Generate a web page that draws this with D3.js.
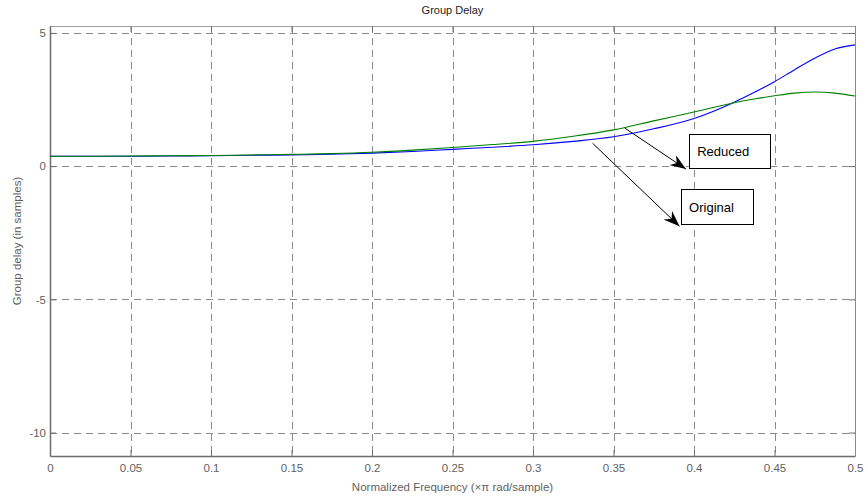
<!DOCTYPE html>
<html>
<head>
<meta charset="utf-8">
<script src="https://cdn.jsdelivr.net/npm/d3@7"></script>
<style>
  html, body { margin: 0; padding: 0; background: #fff; }
  svg { display: block; font-family: "Liberation Sans", Arial, sans-serif; }
</style>
</head>
<body>
<svg id="chart" width="866" height="498"></svg>
<script>
// Normalized frequency samples (x pi rad/sample)
const freq = [0, 0.025, 0.05, 0.075, 0.1, 0.125, 0.15, 0.175, 0.2, 0.225, 0.25,
              0.275, 0.3, 0.325, 0.35, 0.375, 0.4, 0.425, 0.4375, 0.45, 0.4625, 0.475, 0.4875, 0.5];
// Group delay of the original filter (samples)
const originalDelay = [0.37, 0.37, 0.37, 0.38, 0.39, 0.41, 0.42, 0.45, 0.49, 0.55, 0.63,
                       0.71, 0.80, 0.93, 1.10, 1.40, 1.79, 2.40, 2.77, 3.17, 3.62, 4.05, 4.40, 4.55];
// Group delay of the reduced-order filter (samples)
const reducedDelay = [0.37, 0.37, 0.38, 0.39, 0.40, 0.42, 0.44, 0.47, 0.52, 0.60, 0.70,
                      0.81, 0.93, 1.12, 1.36, 1.70, 2.03, 2.38, 2.52, 2.64, 2.74, 2.78, 2.74, 2.63];

const xTicks = [0, 0.05, 0.1, 0.15, 0.2, 0.25, 0.3, 0.35, 0.4, 0.45, 0.5];
const xTickLabels = ["0", "0.05", "0.1", "0.15", "0.2", "0.25", "0.3", "0.35", "0.4", "0.45", "0.5"];
const yTicks = [-10, -5, 0, 5];
const yTickLabels = ["-10", "-5", "0", "5"];
const xDomain = [0, 0.5];
const yDomain = [-10.88, 5.26];

// Text annotations: boxes (data units) and arrows pointing from the curves
const noteLabels = ["Reduced", "Original"];
const noteBoxF = [[0.397, 0.447], [0.392, 0.437]];
const noteBoxV = [[1.20, -0.08], [-0.87, -2.18]];
const arrowFrom = [[0.357, 1.43], [0.337, 0.86]];
const arrowTo = [[0.395, -0.11], [0.391, -2.26]];

const W = 866, H = 498;
const margin = { left: 50, right: 11, top: 26, bottom: 42 };
const svg = d3.select("#chart");

const x = d3.scaleLinear().domain(xDomain).range([margin.left, W - margin.right]);
const y = d3.scaleLinear().domain(yDomain).range([H - margin.bottom, margin.top]);

const frameColor = "#6e6e6e";
const gridColor = "#8a8a8a";
const textColor = "#5f5f5f";

// Dashed grid
const grid = svg.append("g");
grid.selectAll("line.gx").data(xTicks.slice(1, -1)).join("line")
  .attr("x1", d => Math.round(x(d)) + 0.5).attr("x2", d => Math.round(x(d)) + 0.5)
  .attr("y1", y.range()[1]).attr("y2", y.range()[0])
  .attr("stroke", gridColor).attr("stroke-dasharray", "7,5").attr("stroke-width", 1);
grid.selectAll("line.gy").data(yTicks).join("line")
  .attr("y1", d => Math.round(y(d)) + 0.5).attr("y2", d => Math.round(y(d)) + 0.5)
  .attr("x1", x.range()[0]).attr("x2", x.range()[1])
  .attr("stroke", gridColor).attr("stroke-dasharray", "7,5").attr("stroke-width", 1);

// Axes (ticks point inwards, box on all sides)
const fmtX = (d, i) => xTickLabels[i];
const fmtY = (d, i) => yTickLabels[i];
const axBottom = svg.append("g").attr("transform", `translate(0,${y.range()[0]})`)
  .call(d3.axisBottom(x).tickValues(xTicks).tickFormat(fmtX).tickSizeInner(-6).tickSizeOuter(0).tickPadding(8));
const axTop = svg.append("g").attr("transform", `translate(0,${y.range()[1]})`)
  .call(d3.axisTop(x).tickValues(xTicks).tickFormat("").tickSizeInner(-6).tickSizeOuter(0));
const axLeft = svg.append("g").attr("transform", `translate(${x.range()[0]},0)`)
  .call(d3.axisLeft(y).tickValues(yTicks).tickFormat(fmtY).tickSizeInner(-6).tickSizeOuter(0).tickPadding(4));
const axRight = svg.append("g").attr("transform", `translate(${x.range()[1]},0)`)
  .call(d3.axisRight(y).tickValues(yTicks).tickFormat("").tickSizeInner(-6).tickSizeOuter(0));

[axBottom, axTop, axLeft, axRight].forEach(g => {
  g.select(".domain").attr("stroke", frameColor).attr("stroke-width", 1.5);
  g.selectAll(".tick line").attr("stroke", frameColor);
  g.selectAll(".tick text").attr("fill", textColor).attr("font-size", 11.5)
    .attr("font-family", "'Liberation Sans', Arial, sans-serif");
});
axTop.select(".domain").attr("stroke", "#a0a0a0").attr("stroke-width", 1);
axRight.select(".domain").attr("stroke", "#8a8a8a").attr("stroke-width", 1);

// Curves
const line = d3.line().x(d => x(d[0])).y(d => y(d[1])).curve(d3.curveMonotoneX);
svg.append("path").datum(freq.map((f, i) => [f, originalDelay[i]]))
  .attr("d", line).attr("fill", "none").attr("stroke", "#0000ff").attr("stroke-width", 1.1);
svg.append("path").datum(freq.map((f, i) => [f, reducedDelay[i]]))
  .attr("d", line).attr("fill", "none").attr("stroke", "#008000").attr("stroke-width", 1.1);

// Title and axis labels
svg.append("text").attr("x", (x.range()[0] + x.range()[1]) / 2).attr("y", 14)
  .attr("text-anchor", "middle").attr("font-size", 11).attr("fill", "#222")
  .text("Group Delay");
svg.append("text").attr("x", (x.range()[0] + x.range()[1]) / 2).attr("y", 491)
  .attr("text-anchor", "middle").attr("font-size", 11.5).attr("fill", textColor)
  .text("Normalized Frequency (\u00d7\u03c0 rad/sample)");
svg.append("text")
  .attr("transform", `translate(21,${(y.range()[0] + y.range()[1]) / 2}) rotate(-90)`)
  .attr("text-anchor", "middle").attr("font-size", 11.5).attr("fill", textColor)
  .text("Group delay (in samples)");

// Arrow heads
svg.append("defs").append("marker")
  .attr("id", "head").attr("viewBox", "0 0 16 12").attr("refX", 16).attr("refY", 6)
  .attr("markerWidth", 16).attr("markerHeight", 12).attr("markerUnits", "userSpaceOnUse")
  .attr("orient", "auto")
  .append("path").attr("d", "M0,0 L16,6 L0,12 L5,6 Z").attr("fill", "#000");

const notes = svg.append("g");
noteLabels.forEach((label, i) => {
  notes.append("line")
    .attr("x1", x(arrowFrom[i][0])).attr("y1", y(arrowFrom[i][1]))
    .attr("x2", x(arrowTo[i][0])).attr("y2", y(arrowTo[i][1]))
    .attr("stroke", "#000").attr("stroke-width", 1).attr("marker-end", "url(#head)");
  const bx0 = x(noteBoxF[i][0]), bx1 = x(noteBoxF[i][1]);
  const by0 = y(noteBoxV[i][0]), by1 = y(noteBoxV[i][1]);
  notes.append("rect")
    .attr("x", Math.round(bx0) + 0.5).attr("y", Math.round(by0) + 0.5)
    .attr("width", Math.round(bx1 - bx0)).attr("height", Math.round(by1 - by0))
    .attr("fill", "#fff").attr("stroke", "#000").attr("stroke-width", 1);
  notes.append("text")
    .attr("x", bx0 + 8).attr("y", (by0 + by1) / 2 + 5)
    .attr("font-size", 13).attr("fill", "#000").text(label);
});
</script>
</body>
</html>
